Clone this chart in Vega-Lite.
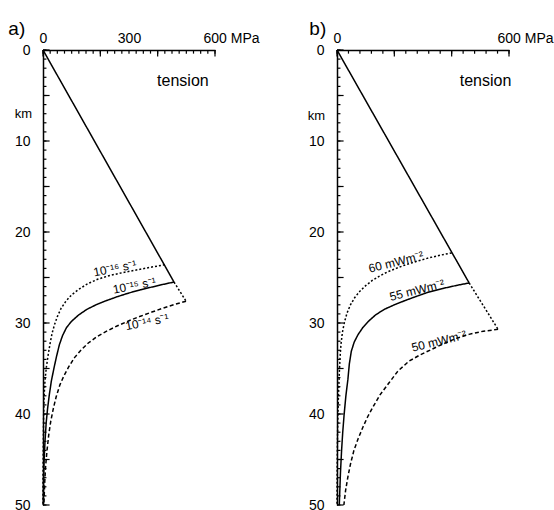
{
  "$schema": "https://vega.github.io/schema/vega-lite/v6.json",
  "padding": {"left": 8, "top": 20, "right": 5, "bottom": 0},
  "spacing": 47,
  "config": {
    "view": {"stroke": null, "fill": null},
    "font": "Liberation Sans",
    "axis": {
      "labelColor": "black",
      "labelFont": "Liberation Sans",
      "labelFontSize": 14,
      "titleFont": "Liberation Sans",
      "titleFontSize": 13,
      "titleFontWeight": "normal",
      "titleColor": "black"
    },
    "title": {"font": "Liberation Sans", "fontSize": 19, "fontWeight": "normal", "anchor": "start", "frame": "bounds", "color": "black", "offset": -8}
  },
  "datasets": {
    "yticks": [
      {"v": 0}, {"v": 1}, {"v": 2}, {"v": 3}, {"v": 4}, {"v": 5}, {"v": 6}, {"v": 7}, {"v": 8}, {"v": 9},
      {"v": 10}, {"v": 11}, {"v": 12}, {"v": 13}, {"v": 14}, {"v": 15}, {"v": 16}, {"v": 17}, {"v": 18}, {"v": 19},
      {"v": 20}, {"v": 21}, {"v": 22}, {"v": 23}, {"v": 24}, {"v": 25}, {"v": 26}, {"v": 27}, {"v": 28}, {"v": 29},
      {"v": 30}, {"v": 31}, {"v": 32}, {"v": 33}, {"v": 34}, {"v": 35}, {"v": 36}, {"v": 37}, {"v": 38}, {"v": 39},
      {"v": 40}, {"v": 41}, {"v": 42}, {"v": 43}, {"v": 44}, {"v": 45}, {"v": 46}, {"v": 47}, {"v": 48}, {"v": 49},
      {"v": 50}
    ],
    "xticks_a": [
      {"v": 0}, {"v": 25}, {"v": 50}, {"v": 75}, {"v": 100}, {"v": 125}, {"v": 150}, {"v": 175}, {"v": 200},
      {"v": 225}, {"v": 250}, {"v": 275}, {"v": 300}, {"v": 325}, {"v": 350}, {"v": 375}, {"v": 400},
      {"v": 425}, {"v": 450}, {"v": 475}, {"v": 500}, {"v": 525}, {"v": 550}, {"v": 575}, {"v": 600}
    ],
    "xticks_b": [
      {"v": 0}, {"v": 40}, {"v": 80}, {"v": 120}, {"v": 160}, {"v": 200}, {"v": 240}, {"v": 280},
      {"v": 320}, {"v": 360}, {"v": 400}, {"v": 440}, {"v": 480}, {"v": 520}, {"v": 560}, {"v": 600}
    ],
    "curves": [
      {"panel": "a", "curve": "line", "i": 0, "x": 0, "y": 0},
      {"panel": "a", "curve": "line", "i": 1, "x": 457, "y": 25.5},
      {"panel": "a", "curve": "ext", "i": 0, "x": 457, "y": 25.5},
      {"panel": "a", "curve": "ext", "i": 1, "x": 499, "y": 27.6},
      {"panel": "a", "curve": "s16", "i": 0, "x": 425, "y": 23.6},
      {"panel": "a", "curve": "s16", "i": 1, "x": 380, "y": 23.85},
      {"panel": "a", "curve": "s16", "i": 2, "x": 330, "y": 24.15},
      {"panel": "a", "curve": "s16", "i": 3, "x": 280, "y": 24.45},
      {"panel": "a", "curve": "s16", "i": 4, "x": 230, "y": 24.8},
      {"panel": "a", "curve": "s16", "i": 5, "x": 190, "y": 25.2},
      {"panel": "a", "curve": "s16", "i": 6, "x": 155, "y": 25.7},
      {"panel": "a", "curve": "s16", "i": 7, "x": 125, "y": 26.3},
      {"panel": "a", "curve": "s16", "i": 8, "x": 100, "y": 26.9},
      {"panel": "a", "curve": "s16", "i": 9, "x": 80, "y": 27.6},
      {"panel": "a", "curve": "s16", "i": 10, "x": 63, "y": 28.4},
      {"panel": "a", "curve": "s16", "i": 11, "x": 50, "y": 29.3},
      {"panel": "a", "curve": "s16", "i": 12, "x": 40, "y": 30.2},
      {"panel": "a", "curve": "s16", "i": 13, "x": 32, "y": 31.1},
      {"panel": "a", "curve": "s16", "i": 14, "x": 25, "y": 32.2},
      {"panel": "a", "curve": "s16", "i": 15, "x": 18, "y": 33.5},
      {"panel": "a", "curve": "s16", "i": 16, "x": 12, "y": 34.8},
      {"panel": "a", "curve": "s16", "i": 17, "x": 7, "y": 36.3},
      {"panel": "a", "curve": "s16", "i": 18, "x": 4, "y": 38.0},
      {"panel": "a", "curve": "s16", "i": 19, "x": 2, "y": 40.5},
      {"panel": "a", "curve": "s16", "i": 20, "x": 1, "y": 43.5},
      {"panel": "a", "curve": "s16", "i": 21, "x": 0, "y": 47.0},
      {"panel": "a", "curve": "s16", "i": 22, "x": 0, "y": 50.0},
      {"panel": "a", "curve": "s15", "i": 0, "x": 457, "y": 25.5},
      {"panel": "a", "curve": "s15", "i": 1, "x": 420, "y": 25.75},
      {"panel": "a", "curve": "s15", "i": 2, "x": 380, "y": 26.05},
      {"panel": "a", "curve": "s15", "i": 3, "x": 340, "y": 26.35},
      {"panel": "a", "curve": "s15", "i": 4, "x": 300, "y": 26.7},
      {"panel": "a", "curve": "s15", "i": 5, "x": 260, "y": 27.1},
      {"panel": "a", "curve": "s15", "i": 6, "x": 220, "y": 27.55},
      {"panel": "a", "curve": "s15", "i": 7, "x": 185, "y": 28.0},
      {"panel": "a", "curve": "s15", "i": 8, "x": 153, "y": 28.5},
      {"panel": "a", "curve": "s15", "i": 9, "x": 125, "y": 29.1},
      {"panel": "a", "curve": "s15", "i": 10, "x": 100, "y": 29.8},
      {"panel": "a", "curve": "s15", "i": 11, "x": 82, "y": 30.5},
      {"panel": "a", "curve": "s15", "i": 12, "x": 68, "y": 31.4},
      {"panel": "a", "curve": "s15", "i": 13, "x": 57, "y": 32.4},
      {"panel": "a", "curve": "s15", "i": 14, "x": 47, "y": 33.7},
      {"panel": "a", "curve": "s15", "i": 15, "x": 38, "y": 35.0},
      {"panel": "a", "curve": "s15", "i": 16, "x": 29, "y": 36.4},
      {"panel": "a", "curve": "s15", "i": 17, "x": 22, "y": 37.9},
      {"panel": "a", "curve": "s15", "i": 18, "x": 16, "y": 39.4},
      {"panel": "a", "curve": "s15", "i": 19, "x": 11, "y": 41.0},
      {"panel": "a", "curve": "s15", "i": 20, "x": 7, "y": 43.0},
      {"panel": "a", "curve": "s15", "i": 21, "x": 4, "y": 45.0},
      {"panel": "a", "curve": "s15", "i": 22, "x": 2, "y": 47.0},
      {"panel": "a", "curve": "s15", "i": 23, "x": 1, "y": 50.0},
      {"panel": "a", "curve": "s14", "i": 0, "x": 499, "y": 27.6},
      {"panel": "a", "curve": "s14", "i": 1, "x": 460, "y": 27.95},
      {"panel": "a", "curve": "s14", "i": 2, "x": 420, "y": 28.35},
      {"panel": "a", "curve": "s14", "i": 3, "x": 380, "y": 28.8},
      {"panel": "a", "curve": "s14", "i": 4, "x": 340, "y": 29.25},
      {"panel": "a", "curve": "s14", "i": 5, "x": 300, "y": 29.75},
      {"panel": "a", "curve": "s14", "i": 6, "x": 260, "y": 30.3},
      {"panel": "a", "curve": "s14", "i": 7, "x": 222, "y": 30.9},
      {"panel": "a", "curve": "s14", "i": 8, "x": 188, "y": 31.5},
      {"panel": "a", "curve": "s14", "i": 9, "x": 158, "y": 32.2},
      {"panel": "a", "curve": "s14", "i": 10, "x": 132, "y": 33.0},
      {"panel": "a", "curve": "s14", "i": 11, "x": 110, "y": 33.8},
      {"panel": "a", "curve": "s14", "i": 12, "x": 90, "y": 34.8},
      {"panel": "a", "curve": "s14", "i": 13, "x": 73, "y": 35.8},
      {"panel": "a", "curve": "s14", "i": 14, "x": 59, "y": 36.8},
      {"panel": "a", "curve": "s14", "i": 15, "x": 46, "y": 38.1},
      {"panel": "a", "curve": "s14", "i": 16, "x": 36, "y": 39.4},
      {"panel": "a", "curve": "s14", "i": 17, "x": 27, "y": 40.8},
      {"panel": "a", "curve": "s14", "i": 18, "x": 20, "y": 42.3},
      {"panel": "a", "curve": "s14", "i": 19, "x": 14, "y": 44.0},
      {"panel": "a", "curve": "s14", "i": 20, "x": 9, "y": 45.8},
      {"panel": "a", "curve": "s14", "i": 21, "x": 6, "y": 47.5},
      {"panel": "a", "curve": "s14", "i": 22, "x": 3, "y": 50.0},
      {"panel": "b", "curve": "line", "i": 0, "x": 0, "y": 0},
      {"panel": "b", "curve": "line", "i": 1, "x": 461, "y": 25.6},
      {"panel": "b", "curve": "ext", "i": 0, "x": 461, "y": 25.6},
      {"panel": "b", "curve": "ext", "i": 1, "x": 562, "y": 30.7},
      {"panel": "b", "curve": "q60", "i": 0, "x": 400, "y": 22.3},
      {"panel": "b", "curve": "q60", "i": 1, "x": 360, "y": 22.55},
      {"panel": "b", "curve": "q60", "i": 2, "x": 320, "y": 22.85},
      {"panel": "b", "curve": "q60", "i": 3, "x": 280, "y": 23.2},
      {"panel": "b", "curve": "q60", "i": 4, "x": 240, "y": 23.6},
      {"panel": "b", "curve": "q60", "i": 5, "x": 206, "y": 24.0},
      {"panel": "b", "curve": "q60", "i": 6, "x": 175, "y": 24.4},
      {"panel": "b", "curve": "q60", "i": 7, "x": 148, "y": 24.85},
      {"panel": "b", "curve": "q60", "i": 8, "x": 124, "y": 25.3},
      {"panel": "b", "curve": "q60", "i": 9, "x": 100, "y": 25.9},
      {"panel": "b", "curve": "q60", "i": 10, "x": 80, "y": 26.5},
      {"panel": "b", "curve": "q60", "i": 11, "x": 62, "y": 27.2},
      {"panel": "b", "curve": "q60", "i": 12, "x": 47, "y": 28.0},
      {"panel": "b", "curve": "q60", "i": 13, "x": 35, "y": 28.9},
      {"panel": "b", "curve": "q60", "i": 14, "x": 26, "y": 29.9},
      {"panel": "b", "curve": "q60", "i": 15, "x": 19, "y": 31.0},
      {"panel": "b", "curve": "q60", "i": 16, "x": 14, "y": 32.3},
      {"panel": "b", "curve": "q60", "i": 17, "x": 11, "y": 33.6},
      {"panel": "b", "curve": "q60", "i": 18, "x": 8, "y": 35.5},
      {"panel": "b", "curve": "q60", "i": 19, "x": 5, "y": 38.0},
      {"panel": "b", "curve": "q60", "i": 20, "x": 3, "y": 40.5},
      {"panel": "b", "curve": "q60", "i": 21, "x": 1.5, "y": 43.0},
      {"panel": "b", "curve": "q60", "i": 22, "x": 0.5, "y": 46.0},
      {"panel": "b", "curve": "q60", "i": 23, "x": 0, "y": 50.0},
      {"panel": "b", "curve": "q55", "i": 0, "x": 461, "y": 25.6},
      {"panel": "b", "curve": "q55", "i": 1, "x": 420, "y": 25.85},
      {"panel": "b", "curve": "q55", "i": 2, "x": 370, "y": 26.2},
      {"panel": "b", "curve": "q55", "i": 3, "x": 320, "y": 26.6},
      {"panel": "b", "curve": "q55", "i": 4, "x": 279, "y": 27.05},
      {"panel": "b", "curve": "q55", "i": 5, "x": 240, "y": 27.5},
      {"panel": "b", "curve": "q55", "i": 6, "x": 200, "y": 28.0},
      {"panel": "b", "curve": "q55", "i": 7, "x": 165, "y": 28.5},
      {"panel": "b", "curve": "q55", "i": 8, "x": 135, "y": 29.1},
      {"panel": "b", "curve": "q55", "i": 9, "x": 110, "y": 29.8},
      {"panel": "b", "curve": "q55", "i": 10, "x": 90, "y": 30.5},
      {"panel": "b", "curve": "q55", "i": 11, "x": 73, "y": 31.3},
      {"panel": "b", "curve": "q55", "i": 12, "x": 60, "y": 32.1},
      {"panel": "b", "curve": "q55", "i": 13, "x": 50, "y": 33.1},
      {"panel": "b", "curve": "q55", "i": 14, "x": 43, "y": 34.5},
      {"panel": "b", "curve": "q55", "i": 15, "x": 38, "y": 36.2},
      {"panel": "b", "curve": "q55", "i": 16, "x": 31, "y": 38.0},
      {"panel": "b", "curve": "q55", "i": 17, "x": 25, "y": 40.0},
      {"panel": "b", "curve": "q55", "i": 18, "x": 20, "y": 42.0},
      {"panel": "b", "curve": "q55", "i": 19, "x": 16, "y": 44.0},
      {"panel": "b", "curve": "q55", "i": 20, "x": 12, "y": 46.5},
      {"panel": "b", "curve": "q55", "i": 21, "x": 8, "y": 50.0},
      {"panel": "b", "curve": "q50", "i": 0, "x": 562, "y": 30.7},
      {"panel": "b", "curve": "q50", "i": 1, "x": 510, "y": 30.9},
      {"panel": "b", "curve": "q50", "i": 2, "x": 460, "y": 31.25},
      {"panel": "b", "curve": "q50", "i": 3, "x": 415, "y": 31.7},
      {"panel": "b", "curve": "q50", "i": 4, "x": 370, "y": 32.3},
      {"panel": "b", "curve": "q50", "i": 5, "x": 330, "y": 32.9},
      {"panel": "b", "curve": "q50", "i": 6, "x": 290, "y": 33.5},
      {"panel": "b", "curve": "q50", "i": 7, "x": 251, "y": 34.2},
      {"panel": "b", "curve": "q50", "i": 8, "x": 212, "y": 35.3},
      {"panel": "b", "curve": "q50", "i": 9, "x": 181, "y": 36.6},
      {"panel": "b", "curve": "q50", "i": 10, "x": 150, "y": 37.9},
      {"panel": "b", "curve": "q50", "i": 11, "x": 126, "y": 39.2},
      {"panel": "b", "curve": "q50", "i": 12, "x": 107, "y": 40.3},
      {"panel": "b", "curve": "q50", "i": 13, "x": 91, "y": 41.4},
      {"panel": "b", "curve": "q50", "i": 14, "x": 74, "y": 42.7},
      {"panel": "b", "curve": "q50", "i": 15, "x": 59, "y": 44.0},
      {"panel": "b", "curve": "q50", "i": 16, "x": 47, "y": 45.5},
      {"panel": "b", "curve": "q50", "i": 17, "x": 38, "y": 46.9},
      {"panel": "b", "curve": "q50", "i": 18, "x": 30, "y": 48.4},
      {"panel": "b", "curve": "q50", "i": 19, "x": 24, "y": 50.0}
    ],
    "labels": [
      {"panel": "a", "text": "10⁻¹⁶ s⁻¹", "x": 251, "y": 24.0},
      {"panel": "a", "text": "10⁻¹⁵ s⁻¹", "x": 319, "y": 25.9},
      {"panel": "a", "text": "10⁻¹⁴ s⁻¹", "x": 363, "y": 29.9},
      {"panel": "b", "text": "60 mWm⁻²", "x": 206, "y": 23.3},
      {"panel": "b", "text": "55 mWm⁻²", "x": 279, "y": 26.4},
      {"panel": "b", "text": "50 mWm⁻²", "x": 356, "y": 32.0}
    ],
    "notes": [
      {"panel": "a", "text": "tension", "x": 488, "y": 3.4},
      {"panel": "b", "text": "tension", "x": 518, "y": 3.4}
    ]
  },
  "hconcat": [
    {
      "width": 172,
      "height": 455,
      "title": {"text": "a)", "dx": -6},
      "resolve": {"axis": {"x": "independent", "y": "independent"}},
      "layer": [
        {
          "data": {"name": "curves"},
          "transform": [{"filter": "datum.panel == 'a'"}],
          "mark": {"type": "line", "color": "black", "strokeWidth": 1.5},
          "encoding": {
            "x": {"field": "x", "type": "quantitative", "scale": {"domain": [0, 600], "nice": false},
              "axis": {"orient": "top", "title": null, "labels": false, "ticks": false, "grid": false, "domain": true, "domainColor": "black", "domainWidth": 1.5}},
            "y": {"field": "y", "type": "quantitative", "scale": {"domain": [0, 50], "nice": false, "reverse": true},
              "axis": {"orient": "left", "title": null, "labels": false, "ticks": false, "grid": false, "domain": true, "domainColor": "black", "domainWidth": 1.5}},
            "order": {"field": "i", "type": "quantitative"},
            "strokeDash": {"field": "curve", "type": "nominal", "legend": null,
              "scale": {"domain": ["line","ext","s16","s15","s14","q60","q55","q50"],
                "range": [[1,0],[2,2],[2,2],[1,0],[4,2.5],[2,2],[1,0],[4,2.5]]}}
          }
        },
        {
          "data": {"name": "yticks"},
          "mark": {"type": "rule", "color": "black", "strokeWidth": 1.2},
          "encoding": {
            "y": {"field": "v", "type": "quantitative", "scale": {"domain": [0, 50], "nice": false, "reverse": true}, "axis": null},
            "x": {"datum": 0, "type": "quantitative", "scale": {"domain": [0, 600], "nice": false}, "axis": null},
            "x2": {"datum": 12}
          }
        },
        {
          "data": {"name": "yticks"},
          "transform": [{"filter": "datum.v % 5 == 0"}],
          "mark": {"type": "rule", "color": "black", "strokeWidth": 1.2},
          "encoding": {
            "y": {"field": "v", "type": "quantitative", "scale": {"domain": [0, 50], "nice": false, "reverse": true}, "axis": null},
            "x": {"datum": 0, "type": "quantitative", "scale": {"domain": [0, 600], "nice": false}, "axis": null},
            "x2": {"datum": 23}
          }
        },
        {
          "data": {"name": "xticks_a"},
          "mark": {"type": "rule", "color": "black", "strokeWidth": 1.2},
          "encoding": {
            "x": {"field": "v", "type": "quantitative", "scale": {"domain": [0, 600], "nice": false}, "axis": null},
            "y": {"datum": 0, "type": "quantitative", "scale": {"domain": [0, 50], "nice": false, "reverse": true}, "axis": null},
            "y2": {"datum": 0.4}
          }
        },
        {
          "data": {"name": "xticks_a"},
          "transform": [{"filter": "datum.v % 200 == 0"}],
          "mark": {"type": "rule", "color": "black", "strokeWidth": 1.2},
          "encoding": {
            "x": {"field": "v", "type": "quantitative", "scale": {"domain": [0, 600], "nice": false}, "axis": null},
            "y": {"datum": 0, "type": "quantitative", "scale": {"domain": [0, 50], "nice": false, "reverse": true}, "axis": null},
            "y2": {"datum": 0.72}
          }
        },
        {
          "data": {"name": "labels"},
          "transform": [{"filter": "datum.panel == 'a'"}],
          "mark": {"type": "text", "color": "black", "fontSize": 12, "angle": -11, "align": "center", "baseline": "middle", "font": "Liberation Sans"},
          "encoding": {
            "x": {"field": "x", "type": "quantitative", "scale": {"domain": [0, 600], "nice": false}, "axis": null},
            "y": {"field": "y", "type": "quantitative", "scale": {"domain": [0, 50], "nice": false, "reverse": true}, "axis": null},
            "text": {"field": "text", "type": "nominal"}
          }
        },
        {
          "data": {"name": "notes"},
          "transform": [{"filter": "datum.panel == 'a'"}],
          "mark": {"type": "text", "color": "black", "fontSize": 16, "align": "center", "baseline": "middle", "font": "Liberation Sans"},
          "encoding": {
            "x": {"field": "x", "type": "quantitative", "scale": {"domain": [0, 600], "nice": false},
              "axis": {"orient": "top", "title": null, "domain": false, "ticks": false, "grid": false, "labelPadding": 5, "labelFlush": false, "labelOverlap": false, "labelBound": false,
                "values": [0,300,600],
                "labelExpr": "datum.value == 600 ? '600 MPa' : datum.label",
                "labelAlign": {"condition": {"test": "datum.value == 600", "value": "left"}, "value": "center"},
                "labelOffset": {"condition": {"test": "datum.value == 600", "value": -12}, "value": 0}}},
            "y": {"field": "y", "type": "quantitative", "scale": {"domain": [0, 50], "nice": false, "reverse": true},
              "axis": {"orient": "left", "domain": false, "ticks": false, "grid": false, "labelPadding": 13, "labelFlush": false, "labelOverlap": false, "labelBound": false,
                "values": [0,10,20,30,40,50],
                "title": "km", "titleAngle": 0, "titleAlign": "center", "titleBaseline": "middle", "titleX": -20, "titleY": 63}},
            "text": {"field": "text", "type": "nominal"}
          }
        }
      ]
    },
    {
      "width": 172,
      "height": 455,
      "title": {"text": "b)", "dx": 2},
      "resolve": {"axis": {"x": "independent", "y": "independent"}},
      "layer": [
        {
          "data": {"name": "curves"},
          "transform": [{"filter": "datum.panel == 'b'"}],
          "mark": {"type": "line", "color": "black", "strokeWidth": 1.5},
          "encoding": {
            "x": {"field": "x", "type": "quantitative", "scale": {"domain": [0, 600], "nice": false},
              "axis": {"orient": "top", "title": null, "labels": false, "ticks": false, "grid": false, "domain": true, "domainColor": "black", "domainWidth": 1.5}},
            "y": {"field": "y", "type": "quantitative", "scale": {"domain": [0, 50], "nice": false, "reverse": true},
              "axis": {"orient": "left", "title": null, "labels": false, "ticks": false, "grid": false, "domain": true, "domainColor": "black", "domainWidth": 1.5}},
            "order": {"field": "i", "type": "quantitative"},
            "strokeDash": {"field": "curve", "type": "nominal", "legend": null,
              "scale": {"domain": ["line","ext","s16","s15","s14","q60","q55","q50"],
                "range": [[1,0],[2,2],[2,2],[1,0],[4,2.5],[2,2],[1,0],[4,2.5]]}}
          }
        },
        {
          "data": {"name": "yticks"},
          "mark": {"type": "rule", "color": "black", "strokeWidth": 1.2},
          "encoding": {
            "y": {"field": "v", "type": "quantitative", "scale": {"domain": [0, 50], "nice": false, "reverse": true}, "axis": null},
            "x": {"datum": 0, "type": "quantitative", "scale": {"domain": [0, 600], "nice": false}, "axis": null},
            "x2": {"datum": 12}
          }
        },
        {
          "data": {"name": "yticks"},
          "transform": [{"filter": "datum.v % 5 == 0"}],
          "mark": {"type": "rule", "color": "black", "strokeWidth": 1.2},
          "encoding": {
            "y": {"field": "v", "type": "quantitative", "scale": {"domain": [0, 50], "nice": false, "reverse": true}, "axis": null},
            "x": {"datum": 0, "type": "quantitative", "scale": {"domain": [0, 600], "nice": false}, "axis": null},
            "x2": {"datum": 23}
          }
        },
        {
          "data": {"name": "xticks_b"},
          "mark": {"type": "rule", "color": "black", "strokeWidth": 1.2},
          "encoding": {
            "x": {"field": "v", "type": "quantitative", "scale": {"domain": [0, 600], "nice": false}, "axis": null},
            "y": {"datum": 0, "type": "quantitative", "scale": {"domain": [0, 50], "nice": false, "reverse": true}, "axis": null},
            "y2": {"datum": 0.4}
          }
        },
        {
          "data": {"name": "xticks_b"},
          "transform": [{"filter": "datum.v % 200 == 0"}],
          "mark": {"type": "rule", "color": "black", "strokeWidth": 1.2},
          "encoding": {
            "x": {"field": "v", "type": "quantitative", "scale": {"domain": [0, 600], "nice": false}, "axis": null},
            "y": {"datum": 0, "type": "quantitative", "scale": {"domain": [0, 50], "nice": false, "reverse": true}, "axis": null},
            "y2": {"datum": 0.72}
          }
        },
        {
          "data": {"name": "labels"},
          "transform": [{"filter": "datum.panel == 'b'"}],
          "mark": {"type": "text", "color": "black", "fontSize": 12, "angle": -14, "align": "center", "baseline": "middle", "font": "Liberation Sans"},
          "encoding": {
            "x": {"field": "x", "type": "quantitative", "scale": {"domain": [0, 600], "nice": false}, "axis": null},
            "y": {"field": "y", "type": "quantitative", "scale": {"domain": [0, 50], "nice": false, "reverse": true}, "axis": null},
            "text": {"field": "text", "type": "nominal"}
          }
        },
        {
          "data": {"name": "notes"},
          "transform": [{"filter": "datum.panel == 'b'"}],
          "mark": {"type": "text", "color": "black", "fontSize": 16, "align": "center", "baseline": "middle", "font": "Liberation Sans"},
          "encoding": {
            "x": {"field": "x", "type": "quantitative", "scale": {"domain": [0, 600], "nice": false},
              "axis": {"orient": "top", "title": null, "domain": false, "ticks": false, "grid": false, "labelPadding": 5, "labelFlush": false, "labelOverlap": false, "labelBound": false,
                "values": [0,600],
                "labelExpr": "datum.value == 600 ? '600 MPa' : datum.label",
                "labelAlign": {"condition": {"test": "datum.value == 600", "value": "left"}, "value": "center"},
                "labelOffset": {"condition": {"test": "datum.value == 600", "value": -12}, "value": 0}}},
            "y": {"field": "y", "type": "quantitative", "scale": {"domain": [0, 50], "nice": false, "reverse": true},
              "axis": {"orient": "left", "domain": false, "ticks": false, "grid": false, "labelPadding": 13, "labelFlush": false, "labelOverlap": false, "labelBound": false,
                "values": [0,10,20,30,40,50],
                "title": "km", "titleAngle": 0, "titleAlign": "center", "titleBaseline": "middle", "titleX": -21, "titleY": 65}},
            "text": {"field": "text", "type": "nominal"}
          }
        }
      ]
    }
  ]
}
